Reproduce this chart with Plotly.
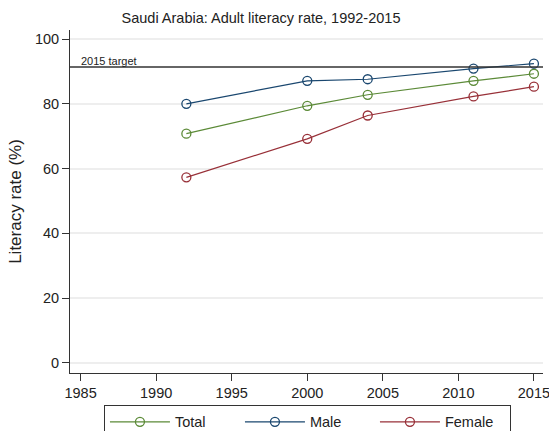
import plotly.graph_objects as go

years = [1992, 2000, 2004, 2011, 2015]
total = [70.8, 79.4, 82.8, 87.1, 89.3]
male = [80.0, 87.1, 87.6, 90.9, 92.4]
female = [57.3, 69.2, 76.4, 82.3, 85.3]
target = 91.4

series = [("Total", total, "#5b8a37"), ("Male", male, "#1a476f"), ("Female", female, "#983038")]

fig = go.Figure()
for name, vals, col in series:
    fig.add_trace(go.Scatter(
        x=years, y=vals, name=name, mode="lines+markers",
        line=dict(color=col, width=1.2),
        marker=dict(symbol="circle-open", size=9, color=col, line=dict(width=1.3, color=col)),
    ))

fig.add_shape(type="line", xref="paper", x0=0, x1=1, yref="y", y0=target, y1=target,
              line=dict(color="#333333", width=1.5))
fig.add_annotation(xref="x", x=1984.9, y=target, yref="y", text="2015 target", showarrow=False,
                   xanchor="left", yanchor="bottom", yshift=-2, font=dict(size=11, color="#222222"))

W, H = 549, 431
fig.update_layout(
    template="none",
    width=W, height=H,
    margin=dict(l=70, r=6, t=30, b=58, autoexpand=False),
    paper_bgcolor="white", plot_bgcolor="white",
    font=dict(family="Liberation Sans, Arial, sans-serif", size=14.5, color="#222222"),
    title=dict(text="Saudi Arabia: Adult literacy rate, 1992-2015", x=261 / W, xref="container",
               xanchor="center", y=1 - 18 / H, yref="container", yanchor="middle",
               font=dict(size=14.5)),
    showlegend=True,
    legend=dict(orientation="h", x=0.502, xanchor="center", y=-0.093, yanchor="top",
                bordercolor="#333333", borderwidth=1, font=dict(size=14.5),
                itemwidth=60, entrywidth=60, tracegroupgap=0),
    xaxis=dict(range=[1984.3, 2015.6], tickvals=[1985, 1990, 1995, 2000, 2005, 2010, 2015],
               showgrid=False, zeroline=False, showline=True, linecolor="#333333", linewidth=1,
               ticks="outside", ticklen=7, tickcolor="#333333", tickfont=dict(size=14.5),
               ticklabeloverflow="allow", automargin=False),
    yaxis=dict(range=[-3.1, 102.8], tickvals=[0, 20, 40, 60, 80, 100],
               showgrid=True, gridcolor="#eeeeee", gridwidth=1.5, zeroline=False,
               showline=True, linecolor="#333333", linewidth=1,
               ticks="outside", ticklen=7, tickcolor="#333333", tickfont=dict(size=14.5),
               title=dict(text="Literacy rate (%)", font=dict(size=17), standoff=8),
               automargin=False),
)

fig.write_html(
    "out.html",
    config={"displayModeBar": False},
    post_script="document.body.style.margin='0';document.body.style.overflow='hidden';",
)
